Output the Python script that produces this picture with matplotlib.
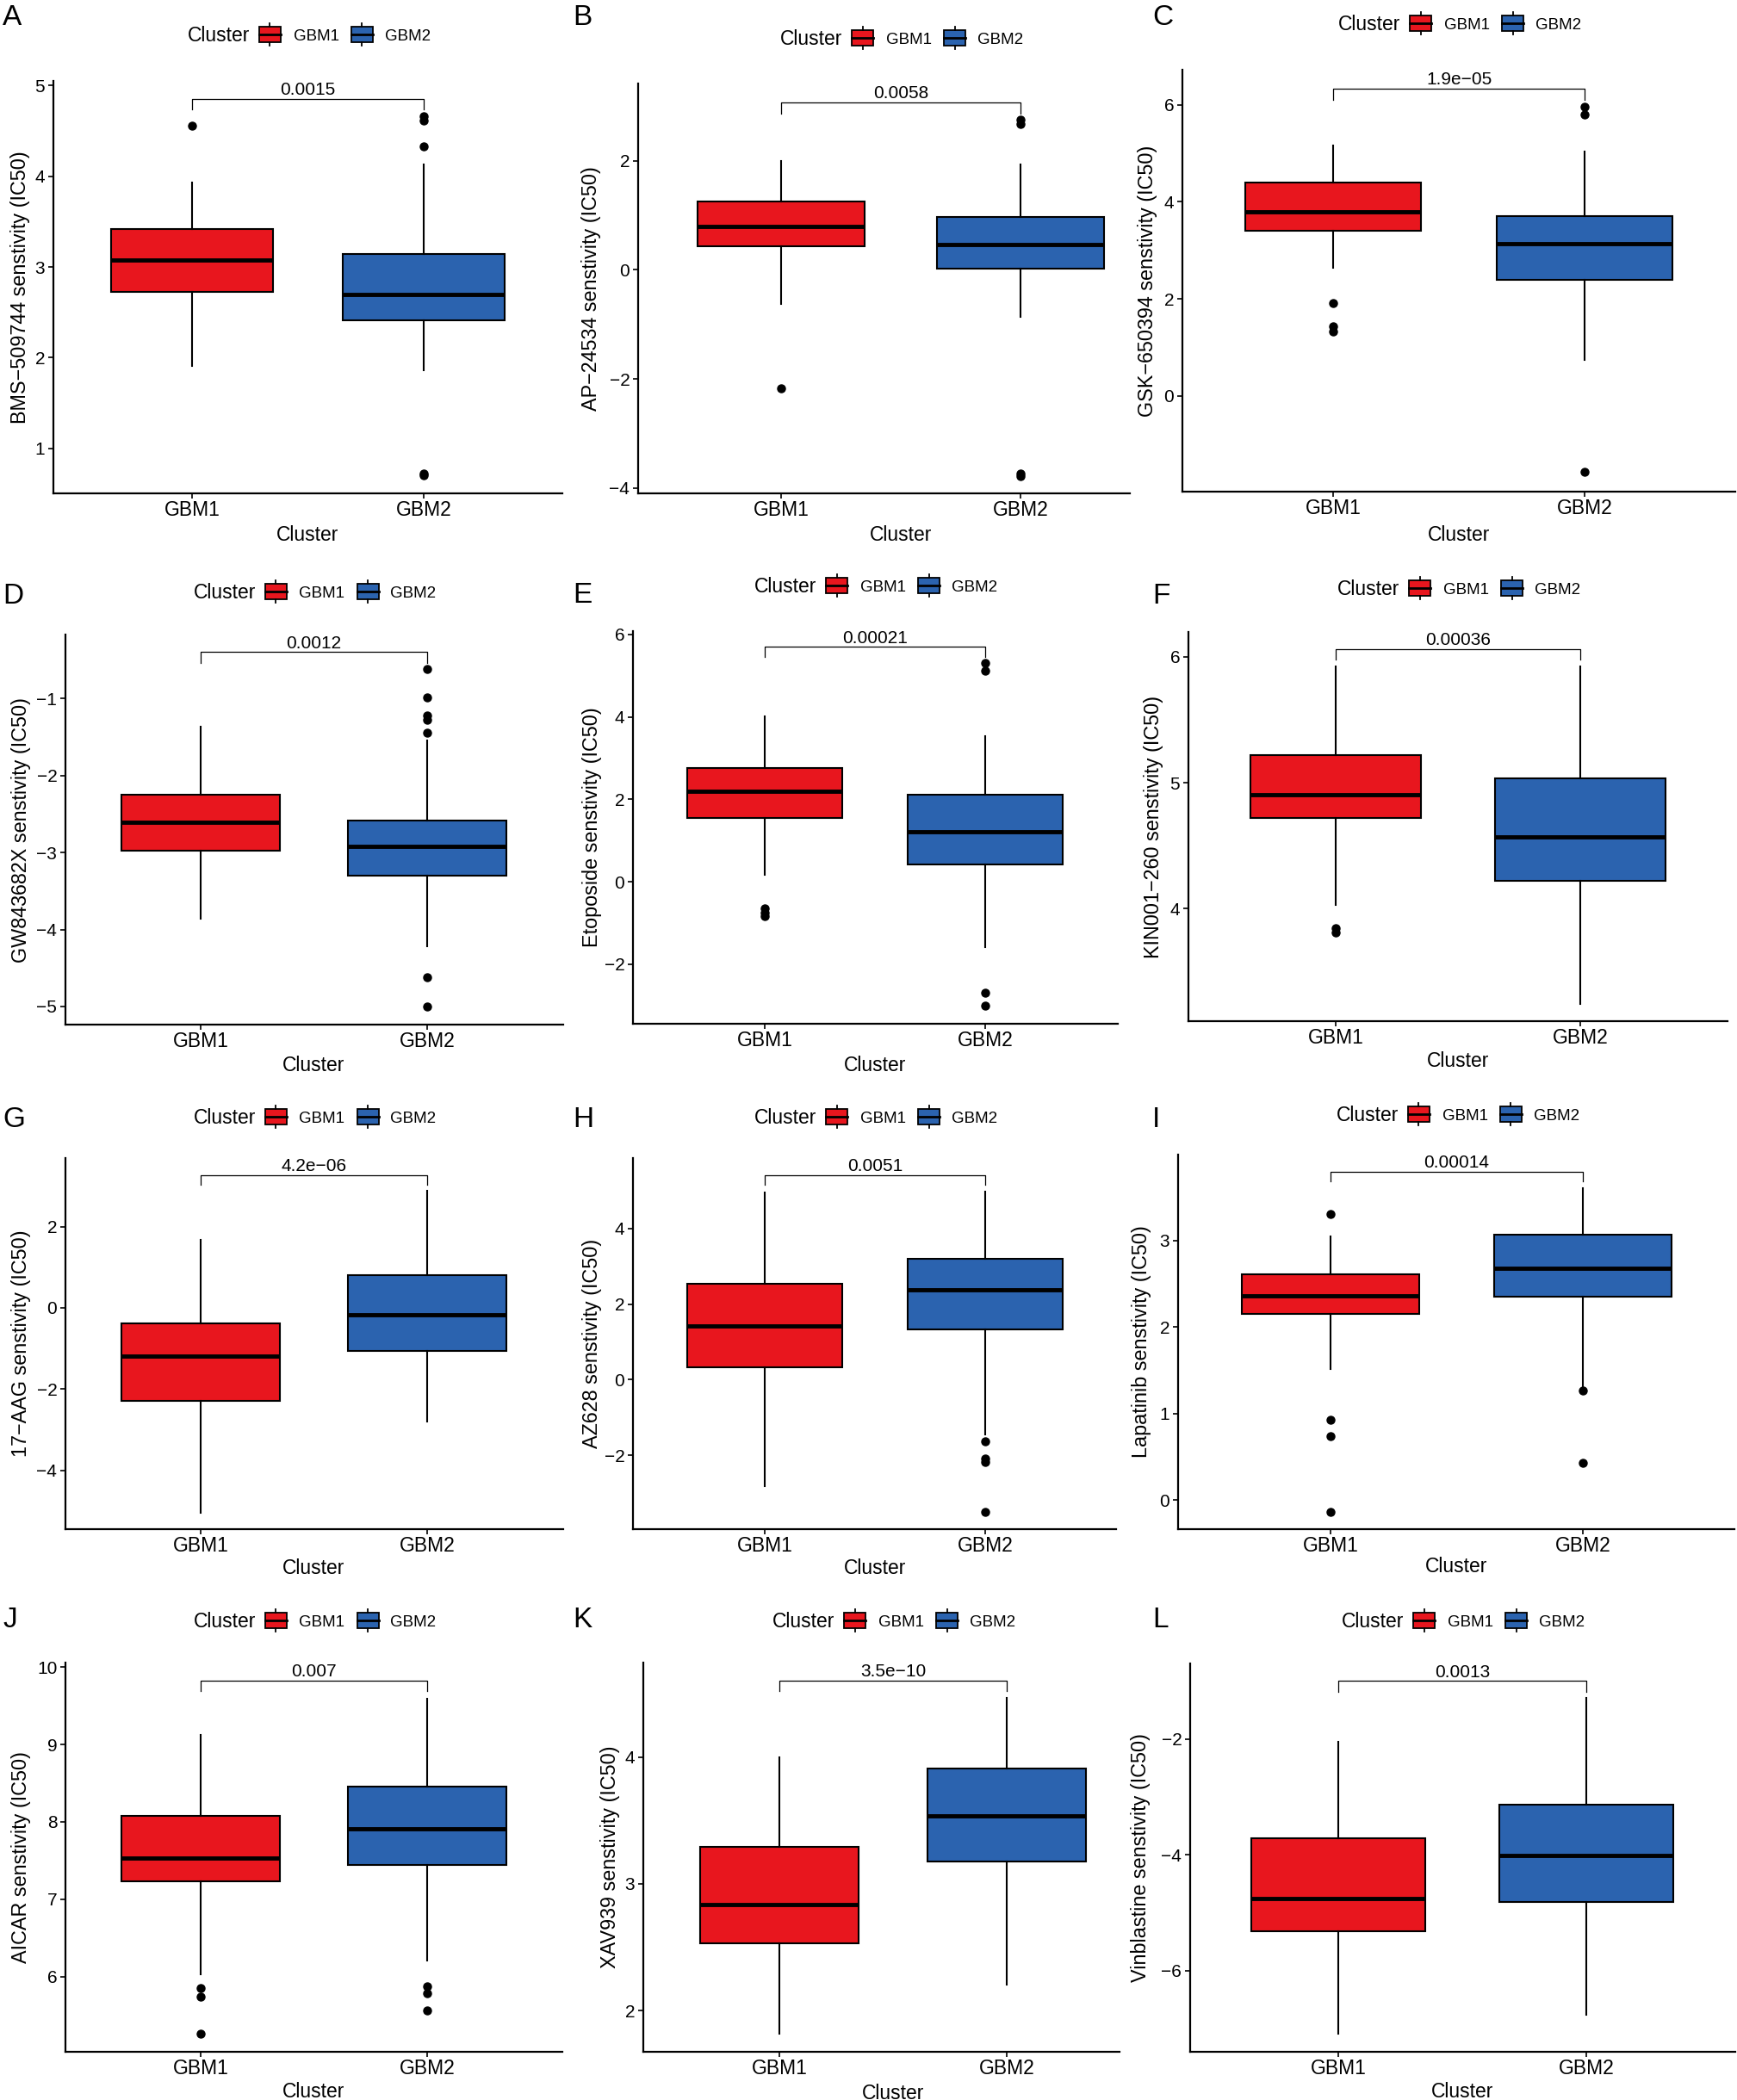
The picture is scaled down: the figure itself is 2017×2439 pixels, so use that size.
import matplotlib.pyplot as plt
from matplotlib.patches import Rectangle

plt.rcParams['font.family'] = ['Liberation Sans', 'DejaVu Sans']
plt.rcParams['axes.unicode_minus'] = True

# ---- data ----
letters = ['A', 'B', 'C', 'D', 'E', 'F', 'G', 'H', 'I', 'J', 'K', 'L']
drugs = ['BMS−509744', 'AP−24534', 'GSK−650394', 'GW843682X', 'Etoposide', 'KIN001−260',
         '17−AAG', 'AZ628', 'Lapatinib', 'AICAR', 'XAV939', 'Vinblastine']
p_values = ['0.0015', '0.0058', '1.9e−05', '0.0012', '0.00021', '0.00036',
            '4.2e−06', '0.0051', '0.00014', '0.007', '3.5e−10', '0.0013']
groups = ['GBM1', 'GBM2']

# box statistics: lower hinge, median, upper hinge, whisker ends, outliers
gbm1_q1 = [2.721, 0.436, 3.41, -2.98, 1.55, 4.723, -2.295, 0.315, 2.150, 7.23, 2.532, -5.314]
gbm1_med = [3.074, 0.80, 3.80, -2.61, 2.19, 4.904, -1.195, 1.43, 2.367, 7.53, 2.835, -4.75]
gbm1_q3 = [3.414, 1.26, 4.39, -2.25, 2.75, 5.217, -0.39, 2.535, 2.607, 8.075, 3.29, -3.718]
gbm1_lo = [1.905, -0.625, 2.64, -3.86, 0.165, 4.027, -5.04, -2.81, 1.513, 6.03, 1.817, -7.093]
gbm1_hi = [3.93, 2.0, 5.17, -1.37, 4.02, 5.925, 1.67, 4.95, 3.052, 9.12, 4.0, -2.05]
gbm1_out = [[4.555], [-2.17], [1.92, 1.43, 1.32], [], [-0.65, -0.74, -0.83], [3.846, 3.81],
            [], [], [3.307, 0.929, 0.734, -0.142], [5.85, 5.74, 5.26], [], []]

gbm2_q1 = [2.408, 0.018, 2.39, -3.30, 0.42, 4.224, -1.068, 1.32, 2.352, 7.44, 3.176, -4.812]
gbm2_med = [2.698, 0.456, 3.13, -2.92, 1.22, 4.569, -0.167, 2.38, 2.685, 7.91, 3.534, -4.003]
gbm2_q3 = [3.147, 0.964, 3.70, -2.58, 2.12, 5.036, 0.813, 3.21, 3.067, 8.46, 3.911, -3.132]
gbm2_lo = [1.859, -0.864, 0.74, -4.22, -1.59, 3.247, -2.79, -1.46, 1.30, 6.21, 2.206, -6.76]
gbm2_hi = [4.13, 1.93, 5.04, -1.54, 3.54, 5.925, 2.876, 4.99, 3.603, 9.595, 4.463, -1.291]
gbm2_out = [[4.66, 4.61, 4.33, 0.72, 0.70], [2.75, 2.68, -3.74, -3.78], [5.96, 5.80, -1.56],
            [-0.62, -0.98, -1.22, -1.28, -1.44, -4.62, -5.0], [5.30, 5.13, -2.70, -3.01],
            [], [], [-1.63, -2.08, -2.19, -3.515], [1.262, 0.427], [5.87, 5.78, 5.56], [], []]

# significance bracket: top line and lower end of the tips
bracket_top = [4.849, 3.068, 6.333, -0.394, 5.70, 6.059, 3.275, 5.422, 3.798, 9.825, 4.60, -0.996]
bracket_tip = [4.733, 2.869, 6.109, -0.535, 5.446, 5.978, 3.036, 5.165, 3.685, 9.691, 4.519, -1.18]

y_ticks = [[1, 2, 3, 4, 5], [-4, -2, 0, 2], [0, 2, 4, 6], [-5, -4, -3, -2, -1],
           [-2, 0, 2, 4, 6], [4, 5, 6], [-4, -2, 0, 2], [-2, 0, 2, 4],
           [0, 1, 2, 3], [6, 7, 8, 9, 10], [2, 3, 4], [-6, -4, -2]]
y_limits = [(0.505, 5.05), (-4.10, 3.416), (-1.974, 6.724), (-5.235, -0.168),
            (-3.446, 6.083), (3.107, 6.197), (-5.45, 3.689), (-3.961, 5.868),
            (-0.337, 3.996), (5.027, 10.058), (1.677, 4.743), (-7.40, -0.695)]

# ---- layout in pixels of the 2017x2439 picture ----
W, H = 2017, 2439
axes_px = [(62, 94, 653, 573), (741, 97, 1312, 573), (1373, 81, 2015, 571),
           (76, 737, 654, 1190), (735, 733, 1298, 1189), (1380, 734, 2006, 1186),
           (76, 1345, 654, 1776), (735, 1345, 1296, 1776), (1368, 1341, 2014, 1776),
           (76, 1931, 653, 2383), (747, 1931, 1300, 2383), (1382, 1932, 2015, 2383)]
tick_px = [(223, 492), (907, 1185), (1548, 1840), (233, 496), (888, 1144), (1551, 1835),
           (233, 496), (888, 1144), (1545, 1838), (233, 496), (905, 1169), (1554, 1842)]
ylab_px = [24, 687, 1332, 24, 687, 1339, 24, 687, 1325, 24, 709, 1325]
xlab_py = [622, 622, 622, 1237, 1237, 1232, 1821, 1821, 1820, 2430, 2431, 2430]
legend_py = [40, 44, 27, 687, 680, 683, 1297, 1297, 1294, 1882, 1882, 1882]
letter_px = [(3, 29), (665, 29), (1338, 29), (3, 701), (665, 700), (1338, 701),
             (3, 1309), (665, 1309), (1338, 1309), (3, 1890), (665, 1890), (1338, 1890)]

colors = ['#E8161E', '#2B63AF']
PX = 100 / 72.0

fig = plt.figure(figsize=(W / 100, H / 100), dpi=100)

for i in range(12):
    left, top, right, bottom = axes_px[i]
    g1, g2 = tick_px[i]
    ax = fig.add_axes([left / W, 1 - bottom / H, (right - left) / W, (bottom - top) / H])

    stats = [
        dict(q1=gbm1_q1[i], med=gbm1_med[i], q3=gbm1_q3[i], whislo=gbm1_lo[i], whishi=gbm1_hi[i], fliers=gbm1_out[i]),
        dict(q1=gbm2_q1[i], med=gbm2_med[i], q3=gbm2_q3[i], whislo=gbm2_lo[i], whishi=gbm2_hi[i], fliers=gbm2_out[i]),
    ]
    bp = ax.bxp(stats, positions=[1, 2], widths=0.7, patch_artist=True, showcaps=False,
                boxprops=dict(edgecolor='black', linewidth=1.5),
                medianprops=dict(color='black', linewidth=3.5, solid_capstyle='butt'),
                whiskerprops=dict(color='black', linewidth=1.5),
                flierprops=dict(marker='o', markerfacecolor='black', markeredgecolor='black',
                                markersize=6.5, linestyle='none'))
    for patch, c in zip(bp['boxes'], colors):
        patch.set_facecolor(c)

    # p-value bracket
    ax.plot([1, 1, 2, 2], [bracket_tip[i], bracket_top[i], bracket_top[i], bracket_tip[i]],
            color='black', linewidth=0.9)
    ax.annotate(p_values[i], xy=(1.5, bracket_top[i]), xytext=(0, 0.5), textcoords='offset points',
                ha='center', va='bottom', fontsize=15)

    unit = g2 - g1
    ax.set_xlim(1 - (g1 - left) / unit, 2 + (right - g2) / unit)
    ax.set_ylim(*y_limits[i])
    ax.set_xticks([1, 2])
    ax.set_xticklabels(groups)
    ax.set_yticks(y_ticks[i])

    for s in ['top', 'right']:
        ax.spines[s].set_visible(False)
    for s in ['left', 'bottom']:
        ax.spines[s].set_linewidth(1.6)
    ax.tick_params(axis='both', length=4.5, width=1.2, color='black')
    ax.tick_params(axis='x', labelsize=16.5, pad=1.5)
    ax.tick_params(axis='y', labelsize=15, pad=2.5)

    ax.set_ylabel(drugs[i] + ' senstivity (IC50)', fontsize=16.8)
    ax.yaxis.label.set_va('center')
    ax.yaxis.set_label_coords((ylab_px[i] - left) / (right - left), 0.5)
    ax.set_xlabel('Cluster', fontsize=16.5)
    ax.xaxis.label.set_va('center')
    ax.xaxis.set_label_coords(((g1 + g2) / 2 - left) / (right - left),
                              (bottom - xlab_py[i]) / (bottom - top))

# overlay in picture pixels for legends and panel letters
ov = fig.add_axes([0, 0, 1, 1])
ov.set_xlim(0, W)
ov.set_ylim(H, 0)
ov.axis('off')

for i in range(12):
    g1, g2 = tick_px[i]
    c = (g1 + g2) / 2
    y = legend_py[i]
    ov.text(c - 140, y + 0.36 * 16.5 * PX, 'Cluster', fontsize=16.5, ha='left', va='baseline')
    for k, (kx, lx) in enumerate([(c - 57, c - 17), (c + 50, c + 89)]):
        ov.add_patch(Rectangle((kx, y - 9), 25, 18, facecolor=colors[k], edgecolor='black', linewidth=1.3))
        ov.plot([kx, kx + 25], [y, y], color='black', linewidth=2)
        ov.plot([kx + 12.5, kx + 12.5], [y - 13, y - 9], color='black', linewidth=1.3)
        ov.plot([kx + 12.5, kx + 12.5], [y + 9, y + 13], color='black', linewidth=1.3)
        ov.text(lx, y + 0.36 * 13.5 * PX, groups[k], fontsize=13.5, ha='left', va='baseline')
    lx, ly = letter_px[i]
    ov.text(lx, ly, letters[i], fontsize=24, ha='left', va='baseline')

fig.savefig('out.png', dpi=100)
